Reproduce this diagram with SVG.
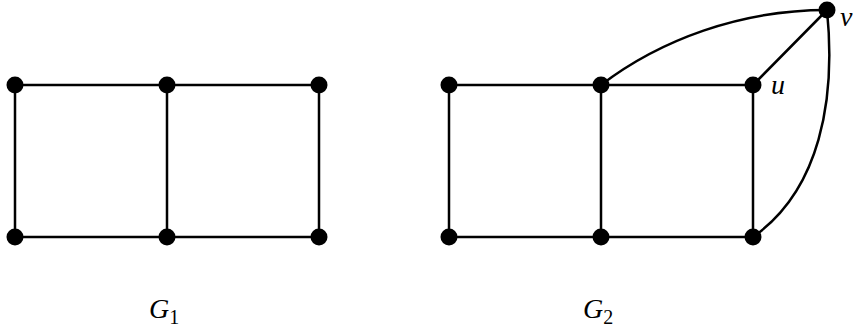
<svg xmlns="http://www.w3.org/2000/svg" width="861" height="332" viewBox="0 0 861 332">
<style>
.e{stroke:#000;stroke-width:2.5;fill:none;stroke-linecap:round}
.n{fill:#000}
.t{font-family:"Liberation Serif",serif;font-style:italic;font-size:28px;fill:#000}
.s{font-family:"Liberation Serif",serif;font-size:20px;fill:#000}
</style>
<rect width="861" height="332" fill="#fff"/>
<g id="edges">
<path class="e" d="M15,85H319M15,237H319M15,85V237M167,85V237M319,85V237"/>
<path class="e" d="M449,85H753M449,237H753M449,85V237M601,85V237M753,85V237"/>
<path class="e" d="M753,85L827,10"/>
<path class="e" d="M601,85C660,40 740,10 827,10"/>
<path class="e" d="M827,10C836,100 820,190 753,237"/>
</g>
<g id="n1"><circle class="n" cx="15" cy="85" r="8.5"/></g>
<g id="n2"><circle class="n" cx="167" cy="85" r="8.5"/></g>
<g id="n3"><circle class="n" cx="319" cy="85" r="8.5"/></g>
<g id="n4"><circle class="n" cx="15" cy="237" r="8.5"/></g>
<g id="n5"><circle class="n" cx="167" cy="237" r="8.5"/></g>
<g id="n6"><circle class="n" cx="319" cy="237" r="8.5"/></g>
<g id="m1"><circle class="n" cx="449" cy="85" r="8.5"/></g>
<g id="m2"><circle class="n" cx="601" cy="85" r="8.5"/></g>
<g id="u"><circle class="n" cx="753" cy="85" r="8.5"/><text class="t" x="771" y="94">u</text></g>
<g id="m4"><circle class="n" cx="449" cy="237" r="8.5"/></g>
<g id="m5"><circle class="n" cx="601" cy="237" r="8.5"/></g>
<g id="m6"><circle class="n" cx="753" cy="237" r="8.5"/></g>
<g id="v"><circle class="n" cx="827" cy="10" r="8.5"/><text class="t" x="840" y="26" font-size="24">v</text></g>
<g id="g1label"><text class="t" x="149" y="318">G<tspan class="s" dy="6" font-style="normal">1</tspan></text></g>
<g id="g2label"><text class="t" x="583" y="318">G<tspan class="s" dy="6" font-style="normal">2</tspan></text></g>
</svg>
